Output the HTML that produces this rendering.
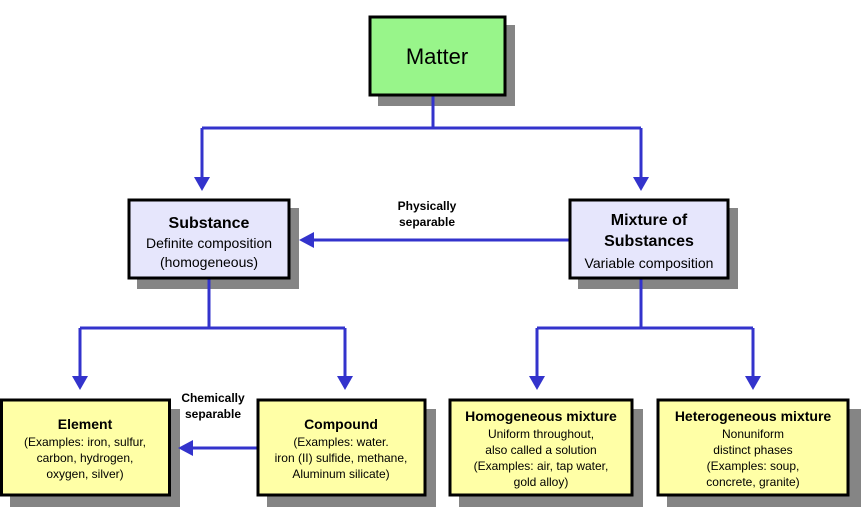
<!DOCTYPE html>
<html><head><meta charset="utf-8"><style>
body{margin:0;background:#fff;width:868px;height:507px;overflow:hidden;font-family:"Liberation Sans",Arial,sans-serif}
</style></head><body>
<svg width="868" height="507" xmlns="http://www.w3.org/2000/svg" font-family="Liberation Sans, Arial, sans-serif">
<g fill="#858585">
<rect x="378" y="25" width="137" height="81"/>
<rect x="137" y="208" width="162" height="81"/>
<rect x="578" y="208" width="160" height="81"/>
<rect x="10" y="409" width="170" height="98"/>
<rect x="267" y="409" width="169" height="98"/>
<rect x="459" y="409" width="184" height="98"/>
<rect x="667" y="409" width="194" height="98"/>
</g>
<g stroke="#3333cc" stroke-width="3" fill="none">
<path d="M433 96V128M202 128H641M202 128V180M641 128V180"/>
<path d="M209 279V328M80 328H345M80 328V378M345 328V378"/>
<path d="M641 279V328M537 328H753M537 328V378M753 328V378"/>
<path d="M569 240H312"/>
<path d="M257 448H192"/>
</g>
<g fill="#3333cc">
<path d="M194 177H210L202 191Z"/><path d="M633 177H649L641 191Z"/>
<path d="M72 376H88L80 390Z"/><path d="M337 376H353L345 390Z"/>
<path d="M529 376H545L537 390Z"/><path d="M745 376H761L753 390Z"/>
<path d="M314 232V248L299 240Z"/><path d="M193 440V456L178 448Z"/>
</g>
<g stroke="#000" stroke-width="3">
<rect x="370" y="17" width="135" height="78" fill="#98f58a"/>
<rect x="129" y="200" width="160" height="78" fill="#e6e6fc"/>
<rect x="570" y="200" width="158" height="78" fill="#e6e6fc"/>
<rect x="1.5" y="400" width="168" height="95" fill="#ffffa6"/>
<rect x="258" y="400" width="167" height="95" fill="#ffffa6"/>
<rect x="450" y="400" width="182" height="95" fill="#ffffa6"/>
<rect x="658" y="400" width="190" height="95" fill="#ffffa6"/>
</g>
<g text-anchor="middle" fill="#000">
<text x="437" y="64" font-size="22">Matter</text>
<text x="209" y="228" font-size="16" font-weight="bold">Substance</text>
<text x="209" y="248" font-size="14">Definite composition</text>
<text x="209" y="267" font-size="14">(homogeneous)</text>
<text x="649" y="225" font-size="16" font-weight="bold">Mixture of</text>
<text x="649" y="246" font-size="16" font-weight="bold">Substances</text>
<text x="649" y="268" font-size="14">Variable composition</text>
<text x="427" y="210" font-size="12" font-weight="bold">Physically</text>
<text x="427" y="226" font-size="12" font-weight="bold">separable</text>
<text x="213" y="402" font-size="12" font-weight="bold">Chemically</text>
<text x="213" y="418" font-size="12" font-weight="bold">separable</text>
<text x="85" y="429" font-size="14" font-weight="bold">Element</text>
<text x="85" y="446" font-size="12">(Examples:  iron, sulfur,</text>
<text x="85" y="462" font-size="12">carbon, hydrogen,</text>
<text x="85" y="478" font-size="12">oxygen, silver)</text>
<text x="341" y="429" font-size="14" font-weight="bold">Compound</text>
<text x="341" y="446" font-size="12">(Examples:  water.</text>
<text x="341" y="462" font-size="12">iron (II) sulfide, methane,</text>
<text x="341" y="478" font-size="12">Aluminum silicate)</text>
<text x="541" y="421" font-size="14" font-weight="bold">Homogeneous mixture</text>
<text x="541" y="438" font-size="12">Uniform  throughout,</text>
<text x="541" y="454" font-size="12">also called a solution</text>
<text x="541" y="470" font-size="12">(Examples:  air, tap water,</text>
<text x="541" y="486" font-size="12">gold alloy)</text>
<text x="753" y="421" font-size="14" font-weight="bold">Heterogeneous mixture</text>
<text x="753" y="438" font-size="12">Nonuniform</text>
<text x="753" y="454" font-size="12">distinct phases</text>
<text x="753" y="470" font-size="12">(Examples:  soup,</text>
<text x="753" y="486" font-size="12">concrete, granite)</text>
</g>
</svg>
</body></html>
